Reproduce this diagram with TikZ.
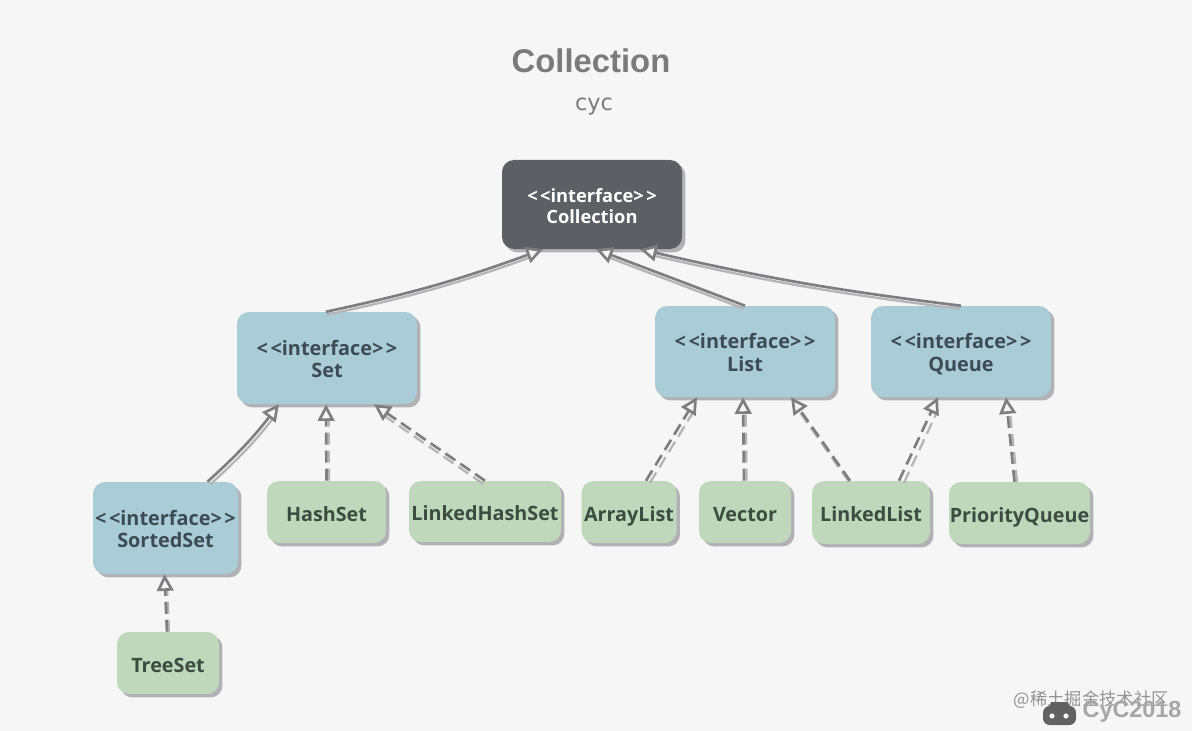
\documentclass[tikz,border=0pt]{standalone}
\usepackage{fontspec}
\usetikzlibrary{arrows.meta,calc,shadows,positioning}
\newfontfamily\boxfont{Open Sans}
\newfontfamily\titlefont{Liberation Sans}
\newfontfamily\subfont{DejaVu Sans}
\newfontfamily\cjkfont{Noto Sans CJK SC}
\definecolor{bgc}{HTML}{F6F6F6}
\definecolor{tealc}{HTML}{AACCD6}
\definecolor{greenc}{HTML}{BFD8BC}
\definecolor{darkc}{HTML}{5C5F64}
\definecolor{shadowc}{HTML}{B2B1B5}
\definecolor{tealtext}{HTML}{3D4B55}
\definecolor{greentext}{HTML}{3C4C41}
\definecolor{linec}{HTML}{7E7E80}
\definecolor{litec}{HTML}{B4B4B6}
\definecolor{titlec}{HTML}{7B7B7B}
\tikzset{
  every picture/.style={x=0.75pt,y=-0.75pt},
  boxbase/.style n args={2}{rectangle,rounded corners=9pt,minimum width=#1*0.75pt,minimum height=#2*0.75pt,inner sep=0pt,align=center,
    general shadow={fill=shadowc,shadow xshift=2.6pt,shadow yshift=-2.6pt}},
  ifacedark/.style 2 args={boxbase={#1}{#2},fill=darkc,text=white,font=\boxfont\fontsize{13.7pt}{15.8pt}\selectfont\bfseries},
  iface/.style 2 args={boxbase={#1}{#2},fill=tealc,text=tealtext,font=\boxfont\fontsize{14.9pt}{17pt}\selectfont\bfseries},
  impl/.style 2 args={boxbase={#1}{#2},fill=greenc,text=greentext,font=\boxfont\fontsize{14.8pt}{17pt}\selectfont\bfseries},
  solidrel/.style={line width=2pt,solid},
  dashrel/.style={line width=2pt,dash pattern=on 9pt off 4.5pt},
  headrel/.style={-{Triangle[open,length=12.5pt,width=12.5pt,line width=2pt,fill=bgc]}},
}
% style, from anchor, dx, to anchor, dx, bend, lite offset x, lite offset y
\newcommand\relline[8]{%
  \draw[#1,litec,line width=1.7pt,shorten >=10pt] ($(#2)+(#3,0)+(#7,#8)$) to[bend left=#6] ($(#4)+(#5,0)+(#7,#8)$);
  \draw[#1,linec,headrel] ($(#2)+(#3,0)$) to[bend left=#6] ($(#4)+(#5,0)$);
}
\newcommand\iftext[2][12.5pt]{\raisebox{0pt}[#1][0pt]{<\hspace{0.13em}<interface>\hspace{0.13em}>}\\\raisebox{0pt}[0pt][0pt]{#2}}
\newcommand\lowtext[1]{\raisebox{0pt}[13.5pt][0pt]{#1}}
\begin{document}
\begin{tikzpicture}
\useasboundingbox (0,0) rectangle (1192,731);
\fill[bgc] (0,0) rectangle (1192,731);
\node[font=\titlefont\fontsize{24.6pt}{28pt}\selectfont\bfseries,text=titlec] (title) at (591,61) {Collection};
\node[font=\subfont\fontsize{16.8pt}{18pt}\selectfont,text=titlec] (author) at (594,107) {cyc};

\node[ifacedark={180}{89}] (collection) at (592,204.5) {\iftext[13.4pt]{Collection}};
\node[iface={180}{92}] (set) at (327,358) {\iftext{Set}};
\node[iface={180}{91}] (list) at (745,351.5) {\iftext{List}};
\node[iface={180}{91}] (queue) at (961,351.5) {\iftext{Queue}};
\node[iface={145}{92}] (sortedset) at (165.5,528) {\iftext{SortedSet}};
\node[impl={119}{62}] (hashset) at (326.5,512) {\lowtext{HashSet}};
\node[impl={152}{61}] (linkedhashset) at (485,511.5) {\lowtext{LinkedHashSet}};
\node[impl={95}{62}] (arraylist) at (629,512) {\lowtext{ArrayList}};
\node[impl={92}{62}] (vector) at (745,512) {\lowtext{Vector}};
\node[impl={118}{63}] (linkedlist) at (871,512.5) {\lowtext{LinkedList}};
\node[impl={141}{62}] (priorityqueue) at (1019.5,513) {\lowtext{PriorityQueue}};
\node[impl={102}{62}] (treeset) at (168,663) {\lowtext{TreeSet}};

\relline{solidrel}{set.north}{-1}{collection.south}{-49}{-4}{1}{3}
\relline{solidrel}{list.north}{0}{collection.south}{4}{0}{-1}{3}
\relline{solidrel}{queue.north}{0}{collection.south}{48}{3}{-1}{3}
\relline{solidrel}{sortedset.north}{42}{set.south}{-48}{-5}{3}{2.5}
\relline{dashrel}{hashset.north}{0}{set.south}{-1}{0}{2.5}{0}
\relline{dashrel}{linkedhashset.north}{0}{set.south}{47}{0}{-2}{3}
\relline{dashrel}{arraylist.north}{17}{list.south}{-48}{0}{4}{2}
\relline{dashrel}{vector.north}{-1}{list.south}{-2}{0}{2.5}{0}
\relline{dashrel}{linkedlist.north}{-21}{list.south}{46}{0}{-1}{1}
\relline{dashrel}{linkedlist.north}{28}{queue.south}{-23}{0}{5}{2}
\relline{dashrel}{priorityqueue.north}{-5}{queue.south}{45}{0}{2.5}{0}
\relline{dashrel}{treeset.north}{-1}{sortedset.south}{-1}{0}{2}{0}

\node[font=\cjkfont\fontsize{13pt}{15pt}\selectfont,text=black!42,anchor=west] (mark) at (1009,700) {@稀土掘金技术社区};
\fill[black!62,rounded corners=5pt] (1043,706) rectangle (1076,725);
\fill[black!62] (1049,708) -- (1051,702) -- (1068,702) -- (1070,708) -- cycle;
\fill[bgc] (1052,716) circle[radius=2.6] (1066,716) circle[radius=2.6];
\node[font=\titlefont\fontsize{17.5pt}{20pt}\selectfont\bfseries,text=black!35,anchor=west] (brand) at (1078,712) {CyC2018};
\end{tikzpicture}
\end{document}
